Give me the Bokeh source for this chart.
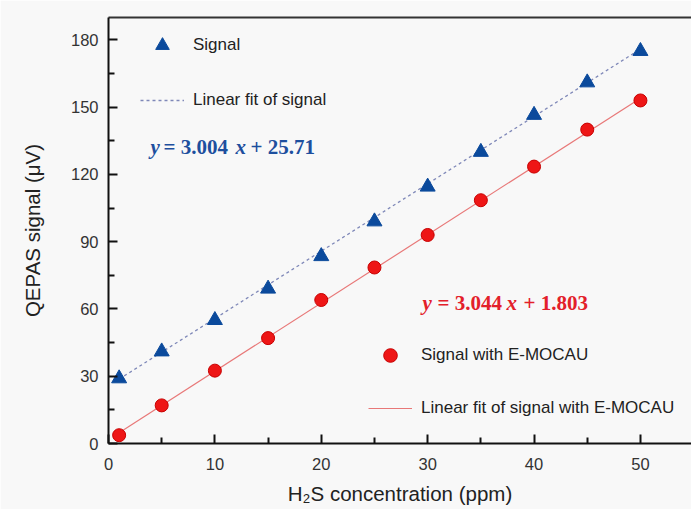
from bokeh.plotting import figure
from bokeh.models import (Legend, LegendItem, Label, LinearAxis, FixedTicker,
                          ColumnDataSource, Range1d)
from bokeh.embed import file_html
from bokeh.resources import INLINE

# ---- data ----
concentration = [1, 5, 10, 15, 20, 25, 30, 35, 40, 45, 50]
signal = [29.0, 41.0, 55.0, 69.0, 83.5, 99.0, 114.5, 130.0, 146.5, 161.0, 175.0]
signal_emocau = [3.7, 17.0, 32.5, 47.0, 64.0, 78.5, 93.0, 108.5, 123.5, 140.0, 153.0]

fit_x = [1, 50]
fit_signal_slope, fit_signal_icpt = 3.004, 25.71
fit_emocau_slope, fit_emocau_icpt = 3.044, 1.803
fit_signal = [fit_signal_slope * v + fit_signal_icpt for v in fit_x]
fit_emocau = [fit_emocau_slope * v + fit_emocau_icpt for v in fit_x]

x_ticks = [0, 10, 20, 30, 40, 50]
y_ticks = [0, 30, 60, 90, 120, 150, 180]

BG = "#f8f8f8"
BLUE = "#0b4a9c"
RED = "#ee1616"
FONT = "Liberation Sans"
SERIF = "Liberation Serif"

p = figure(width=691, height=509,
           x_range=Range1d(0, 54.8), y_range=Range1d(0, 190),
           output_backend="svg", toolbar_location=None,
           min_border_left=108, min_border_right=0, min_border_top=17,
           min_border_bottom=66,
           background_fill_color=BG, border_fill_color=BG,
           outline_line_color=None)
p.grid.visible = False

# axes styling
for ax, ticks in ((p.xaxis[0], x_ticks), (p.yaxis[0], y_ticks)):
    ax.ticker = FixedTicker(ticks=ticks,
                            minor_ticks=[t + (ticks[1] - ticks[0]) / 2 for t in ticks])
    ax.axis_line_color = "#111111"
    ax.axis_line_width = 2
    ax.major_tick_line_color = "#111111"
    ax.major_tick_line_width = 2
    ax.minor_tick_line_color = "#111111"
    ax.minor_tick_line_width = 2
    ax.major_tick_in = 9
    ax.major_tick_out = 0
    ax.minor_tick_in = 6
    ax.minor_tick_out = 0
    ax.major_label_text_font = FONT
    ax.major_label_text_font_size = "16.5px"
    ax.major_label_text_color = "#333333"
    ax.axis_label_text_font = FONT
    ax.axis_label_text_font_size = "20.5px"
    ax.axis_label_text_font_style = "normal"
    ax.axis_label_text_color = "#222222"

p.xaxis.axis_label = "H\u2082S concentration (ppm)"
p.yaxis.axis_label = "QEPAS signal (\u03bcV)"
p.xaxis.major_label_standoff = 14
p.xaxis.axis_label_standoff = 9
p.yaxis.major_label_standoff = 10
p.yaxis.axis_label_standoff = 24

top_axis = LinearAxis(ticker=FixedTicker(ticks=[]), axis_line_color="#333333",
                      axis_line_width=2, major_label_text_font_size="0px",
                      major_tick_line_color=None, minor_tick_line_color=None,
                      major_label_standoff=0)
p.add_layout(top_axis, "above")

# data
src = ColumnDataSource(dict(x=concentration, s=signal, e=signal_emocau))
fit_src = ColumnDataSource(dict(x=fit_x, s=fit_signal, e=fit_emocau))

r_fit_s = p.line("x", "s", source=fit_src, line_color="#7f88b8",
                 line_width=1.3, line_dash="3 3")
r_fit_e = p.line("x", "e", source=fit_src, line_color="#e87878", line_width=1.2)
r_sig = p.scatter("x", "s", source=src, marker="triangle", size=15,
                  fill_color=BLUE, line_color=BLUE)
r_emo = p.scatter("x", "e", source=src, marker="circle", size=13,
                  fill_color=RED, line_color="#c80000", line_width=1)

def make_legend(items, loc, spacing):
    lg = Legend(items=items, location=loc, spacing=spacing, padding=0, margin=0,
                glyph_width=44, glyph_height=34, label_height=34,
                label_standoff=9, background_fill_alpha=0,
                border_line_color=None, label_text_font=FONT,
                label_text_font_size="17px", label_text_color="#222222")
    return lg

leg1 = make_legend([LegendItem(label="Signal", renderers=[r_sig]),
                    LegendItem(label="Linear fit of signal", renderers=[r_fit_s])],
                   (32, 326), 21)
leg2 = make_legend([LegendItem(label="Signal with E-MOCAU", renderers=[r_emo]),
                    LegendItem(label="Linear fit of signal with E-MOCAU",
                               renderers=[r_fit_e])],
                   (260, 18), 19)
p.add_layout(leg1, "center")
p.add_layout(leg2, "center")

def equation(parts, y, color):
    for txt, x, italic in parts:
        p.add_layout(Label(x=x, y=y, x_units="screen", y_units="screen", text=txt,
                           text_font=SERIF, text_font_size="21px",
                           text_font_style="bold italic" if italic else "bold",
                           text_color=color, text_baseline="middle",
                           text_align="left"))

equation([("y", 42, True), ("= 3.004", 55, False), ("x", 127, True),
          ("+ 25.71", 142, False)], 297, "#1d4f9e")
equation([("y", 314, True), ("= 3.044", 329, False), ("x", 398, True),
          ("+ 1.803", 415, False)], 141, "#e3202a")

open("out.html", "w").write(file_html(p, INLINE))
